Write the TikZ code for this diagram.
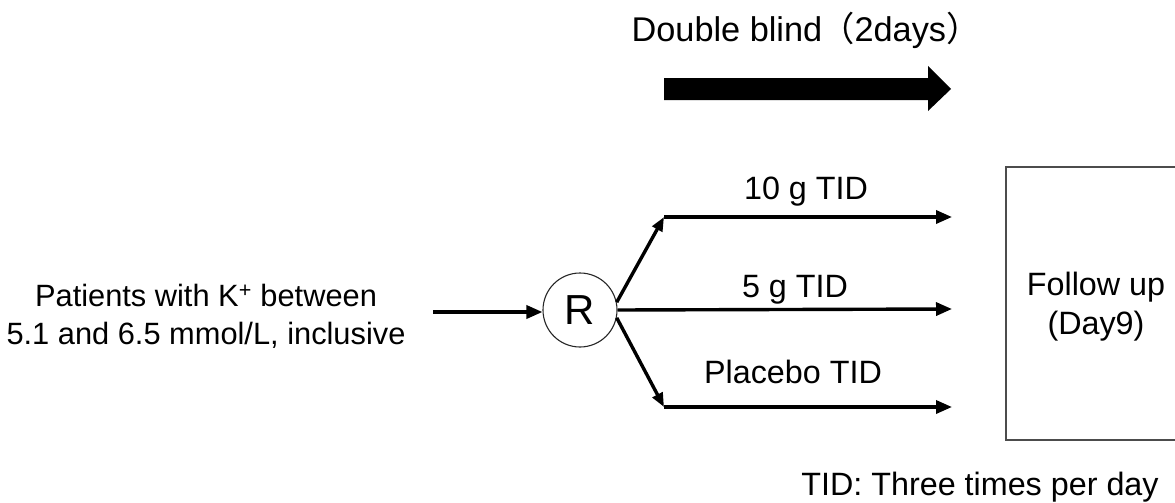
\documentclass[tikz,border=0pt]{standalone}
\usepackage{fontspec}
\setmainfont{Liberation Sans}
\newfontfamily\cjkfont{Noto Sans CJK JP}
\usetikzlibrary{arrows.meta}
\begin{document}
\begin{tikzpicture}[x=1pt,y=-1pt,
  lbl/.style={font=\fontsize{32.3}{39}\selectfont, inner sep=0pt, anchor=base},
  flow/.style={line width=3.4pt, -{Triangle[length=16pt,width=13pt]}},
  branch/.style={line width=3.4pt, -{Triangle[length=14pt,width=11pt]}},
]
\useasboundingbox (0,0) rectangle (1175,503);

% title and the double-blind phase arrow
\node[lbl, font=\fontsize{34.3}{41}\selectfont] (title) at (806,42)
  {Double blind\hspace{-2pt}{\cjkfont （}2days{\cjkfont ）}};
\fill (664,78) -- (928,78) -- (928,66) -- (951,89) -- (928,111) -- (928,100) -- (664,100) -- cycle;

% inclusion criteria
\node[lbl, align=center, anchor=center, font=\fontsize{30.8}{38}\selectfont] (pat) at (206,316)
  {Patients with K\textsuperscript{+} between\\5.1 and 6.5 mmol/L, inclusive};
\coordinate (in) at (433,312);

% randomisation
\node[draw, circle, line width=1.1pt, draw=black!85, minimum size=74pt, inner sep=0pt,
  font=\fontsize{42}{42}\selectfont] (R) at (580,310) {R};
\draw[flow] (in) -- (R.west |- in);

% treatment arms
\coordinate (a1) at (664,217);
\coordinate (b1) at (952,217);
\coordinate (a2) at (R.east);
\coordinate (b2) at (952,309);
\coordinate (a3) at (664,407);
\coordinate (b3) at (952,407);
\draw[branch] (R.12) -- (a1);
\draw[branch] (R.-12) -- (a3);
\draw[flow] (a1) -- (b1);
\draw[flow] (a2) -- (b2);
\draw[flow] (a3) -- (b3);

\node[lbl] (arm1) at (806,199) {10 g TID};
\node[lbl] (arm2) at (795,297) {5 g TID};
\node[lbl] (arm3) at (793,383) {Placebo TID};

% follow-up box (runs off the right edge)
\draw[line width=1.6pt, draw=black!70] (1180,167) -- (1006,167) -- (1006,440) -- (1180,440);
\node[lbl, align=center, anchor=center] (fu) at (1096,307) {Follow up\\(Day9)};

% footnote
\node[lbl] (note) at (980,495) {TID: Three times per day};
\end{tikzpicture}
\end{document}
